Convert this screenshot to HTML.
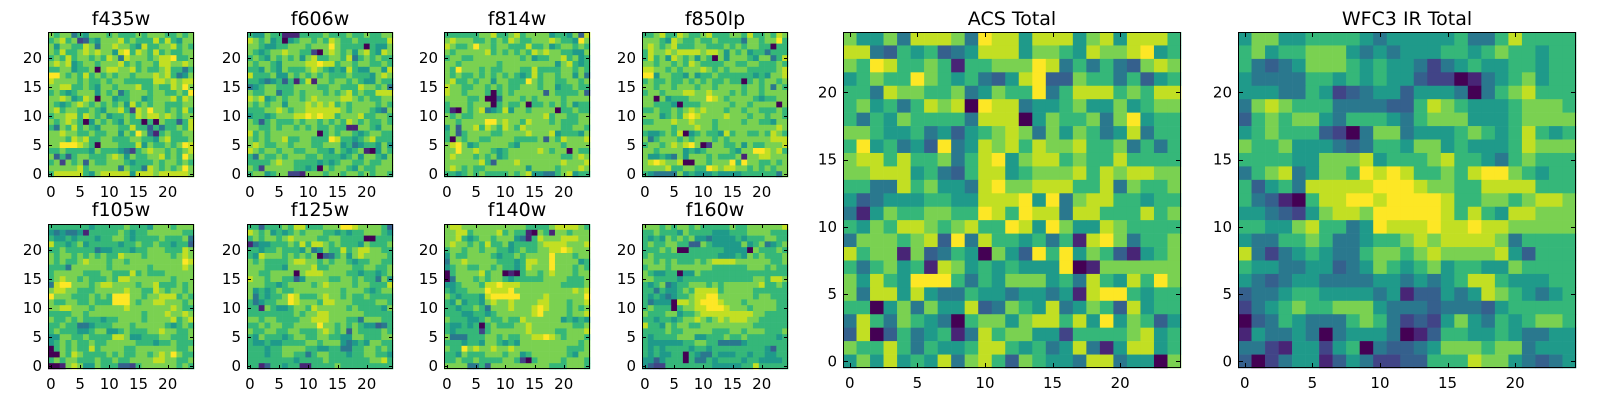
<!DOCTYPE html>
<html><head><meta charset="utf-8"><style>
html,body{margin:0;padding:0;background:#fff;}
body{width:1600px;height:400px;overflow:hidden;}
svg text{font-family:"DejaVu Sans","Liberation Sans",sans-serif;fill:#000;}
</style></head><body>
<svg id="fig" width="1600" height="400" viewBox="0 0 1600 400" xmlns="http://www.w3.org/2000/svg"></svg>
<script>
const tickValues = [0, 5, 10, 15, 20];
const gridSize = 25;
const levelColors = ["#440154","#482576","#414487","#35608d","#2a788e","#1f9a8a","#35b779","#7ad151","#c2df23","#fde725"];
const panelTitles = ["f435w","f606w","f814w","f850lp","f105w","f125w","f140w","f160w","ACS Total","WFC3 IR Total"];
// rows listed top (y=24) to bottom (y=0); digits = intensity level 0..9
const f435w = ["7677465777676667677766767","6786723657778676668686577","7577668747787765866778676","7686678787758968768676677","6768677676874877767889667","7878567767778676776887787","6677566707887786766786646","9976768676767767778786457","8777767667677666668878788","7788667657767778667668797","6765677757674677767766769","7787568707756677567778687","7656787676767586767766677","7867766765778628797767686","6778868767566768788787677","7678760576765766060766368","6476867657776686636466768","7787766766775769741676677","7776878667766677665786667","7799987607776668576676798","6676666576665426787767678","7363677666787576677867697","6727673766777656667677676","7777786777774766487676797","6888886578888858887888887"];
const f606w = ["6557661116666766676676677","8767560567767687667666668","7765566777677797666606557","7656778776620787675786587","6765767675786677684676766","7677657777889886776776676","6657657666787656586557758","8666755767676766676665787","6654563616817767767655766","4567766677776677666877674","7667746676777676786766888","8785676776787777887676677","7676775777878786767777676","6667787677888888767776547","5665677788989886777866776","7636766676776767687676676","7766767767676676611776577","8676777777770676776567766","7676778667766698665678666","7876677677766777564566575","8767767766776657656710576","6476676777667666567577657","6666787766665656776676677","7627777766560767765766777","6775677221777677677676776"];
const f814w = ["6666667786678677775665738","7877766767687667778766597","8766797767766686675677676","7677777867676768787766557","6776677777777675667786756","7767777776777777777578656","7697776766777668666677676","7676676767676568677677574","7866767757766697677667767","8776677676766777677566766","8776777606767777737666673","7777667004777676777767777","6777677706766706676767566","6107678456857767777066766","7676677777777777786776677","7767777997877687776766677","5737786876876877777766776","6736777766777787778566657","6076776677776666737687778","7897567777765777777767777","7797787765677777876770766","7877767675677777777766787","7777778637778777777787778","7876766777777757777677787","6656767666676785544678566"];
const f850lp = ["6678668766786667768667687","7776587667667666647767796","7876786667766676767766066","6877878888788757675664666","6867587675760757776577468","7767767687666677667766676","8877676777876767776666678","9957766575667666666565778","6766766767676676606767767","7767767776776777767767476","6776777887787776767767777","7707566677798767777656677","7766650666777776776777707","6676676787877767767766676","7775676898777787776776776","6677787787776777767766577","7777767778776777777777787","6556768056766586776676876","7467776767776767777777888","6776787897027766757667778","7767777565677776577998786","7556547577767666717788777","7898778007767779697766767","7777866776698788776767677","6544447565556555566666647"];
const f105w = ["6666666566666766657776777","5454451666667656677777766","6556566656677656666766674","8665675666665667667665663","6676666645566656677766687","7677676767668777677776787","7676678777677677777777798","6664777777677777767777787","6777776667766686766677777","6787767666768877777776777","4899777678877776778666767","7887766677777877668767767","9777666767699977677888676","7667766766699976778877767","7788777677777877777778766","6666776777777777677787787","7667676665667777677778678","6676644566677767777765676","6766655677556766677877667","5577667666688755666776667","5676766766777776665667666","0676766867777667777777667","0076876666767667767879766","6767766676676677778877667","0017875576663326777777676"];
const f125w = ["6636667688666777998777763","8767565676777665656677765","6767767877776677666600666","1455666768688767666576667","6656676665745766867887766","6587776767670346757877776","7676666788776767765667766","7776665777786677776677667","7766777707888777766566567","8776776635777766776766475","7776656777767877776776668","7565676677777777677765677","7465667986667877676676666","6456677987776887776666776","6617655677687777767666657","6666666676778877777766666","7767766667788877766477766","6676776677779776767655346","7667766776667876737666676","6576665677667766557766677","6556556666776777545657766","6665667777665566446677676","6665667766467766656677665","6666666656666766666667786","6613665661166667666666666"];
const f140w = ["7887777777777766667888876","7788677778676610761776777","7786567767775416877788877","7877676866756666788887778","6776776776656766778898777","5766777765667677779777677","4778777776665688779777756","5677667767665687779777676","0677778677010677678777677","0477767677656666677776667","5567776889888777777766667","6566777988897777777777878","7656665899999777787777779","6575665787787777887776778","6656676477787778987776767","6665566567777778977776778","7666556766766877777756565","6556560676667787777777667","6566662677777787777667778","7444666776766778898767776","6665665776565777777777767","7669787787787777777776667","6657666777677567777776577","6676676666776206777767776","7777446377777777776667776"];
const f160w = ["7776767767666667667777778","6676665766665556667777666","6565767675545555656667766","6766776633765555575674567","6667670066666655550766676","6766666666666555657676667","7767676667678888777777667","6777677777776666667776766","7655660557666666666666666","7766665666666666666776887","6567456677767677777786676","6646556768888677777666666","6565456678899777777677666","6455508878999877767777766","6766606778899987776777766","7666775667888888888776666","6656656778767878887766666","8665767766777777777666666","6666766777776667767776667","6566667775566676676666656","6555555667766444456666666","6565666656656666666665366","6565566065446555665665566","5535666064465666656655556","5322666666665555566866666"];
const acsTotal = ["7557488874988588857858886","8843656345888577658778956","7698667616677798464643787","5676697656435893376646356","6648776674576694688867688","6756468780988455675575677","6465766664888057667479566","7765564535678747576458466","6956453945878687786674646","7886866746895788676686666","7788856436885677786878877","6644867554897788866847667","5345556655888959478866566","4157667766986988488666867","6576887678669859755876666","4777678394866564618974667","8677173465075396957631567","6467561875656555901777777","7586599964657775648658697","7488585446554554518996566","6605747558347658457638566","4864765406775788685957635","3803645614867755266667856","7668646556886564584158856","5758565847863765548845507"];
const wfc3Total = ["5775566665455555644686666","6756677754545556656766566","6434577765655424565566566","5444466565655322014567566","5554465234553555404678666","4787666444433687655567776","3676775466654677755567777","5676663204774555676568656","7667555434665775655568777","6666557778566678665467666","4678457769898667689976566","6356488888999877668888666","6431068899899998667767887","5543257887999998686588777","6655786645988898898877777","5446676445667878888746666","8424565446776787777853666","6554455345765675665576666","5434554444554545688655566","3445665555451335458765456","2456766777544434443566666","0346544467642325754656776","1544540455540136655654455","4421552560433457776774555","3024551354223366687754345"];

const panelData = [f435w,f606w,f814w,f850lp,f105w,f125w,f140w,f160w,acsTotal,wfc3Total];
const smallLefts = [48,247,444,642];
const NS = "http://www.w3.org/2000/svg";
const svg = document.getElementById('fig');

function mk(tag, attrs, parent){
  const e = document.createElementNS(NS, tag);
  for (const k in attrs) e.setAttribute(k, attrs[k]);
  parent.appendChild(e);
  return e;
}

function layout(i){
  if (i < 8) {
    const col = i % 4, row = Math.floor(i / 4);
    return {x: smallLefts[col], y: row === 0 ? 32 : 224, w: 146, h: 145, tick: 4, title: row === 0 ? 25 : 216};
  }
  return {x: i === 8 ? 843 : 1238, y: 32, w: 338, h: 336, tick: 5, title: 25};
}

panelData.forEach((rows, i) => {
  const L = layout(i);
  const g = mk('g', {}, svg);
  
  
  const sx = v => L.x + (v + 0.5) * L.w / gridSize;
  const sy = v => L.y + L.h - (v + 0.5) * L.h / gridSize;
  const cw = L.w / gridSize, ch = L.h / gridSize;
  for (let r = 0; r < gridSize; r++) {
    const yVal = gridSize - 1 - r;
    for (let c = 0; c < gridSize; c++) {
      const lvl = +rows[r][c];
      const cell = mk('rect', {x: (sx(c) - cw/2).toFixed(2), y: (sy(yVal) - ch/2).toFixed(2), width: (cw + 0.3).toFixed(2), height: (ch + 0.3).toFixed(2), fill: levelColors[lvl]}, g);
      
      
    }
  }
  const frame = mk('rect', {x: L.x + 0.5, y: L.y + 0.5, width: L.w - 1, height: L.h - 1, fill: 'none', stroke: '#000', 'stroke-width': 1}, g);
  
  
  tickValues.forEach(t => {
    const x = Math.round(sx(t)) + 0.5, y = Math.round(sy(t)) + 0.5;
    mk('line', {x1: x, y1: L.y + L.h, x2: x, y2: L.y + L.h - L.tick, stroke: '#000'}, g);
    mk('line', {x1: x, y1: L.y, x2: x, y2: L.y + L.tick, stroke: '#000'}, g);
    mk('line', {x1: L.x, y1: y, x2: L.x + L.tick, y2: y, stroke: '#000'}, g);
    mk('line', {x1: L.x + L.w, y1: y, x2: L.x + L.w - L.tick, y2: y, stroke: '#000'}, g);
    const xl = mk('text', {x: sx(t), y: L.y + L.h + 20, 'font-size': 15, 'text-anchor': 'middle'}, g);
    xl.textContent = t;
    
    
    const yl = mk('text', {x: L.x - 6, y: sy(t) + 5, 'font-size': 15, 'text-anchor': 'end'}, g);
    yl.textContent = t;
    
    
  });
  const tt = mk('text', {x: L.x + L.w / 2, y: L.title, 'font-size': 19, 'text-anchor': 'middle'}, g);
  tt.textContent = panelTitles[i];
  
  
});
</script>
</body></html>
